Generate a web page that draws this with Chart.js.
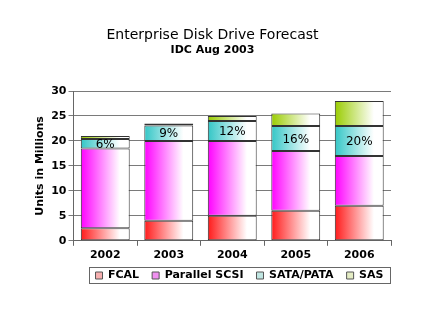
<!DOCTYPE html>
<html>
<head>
<meta charset="utf-8">
<script src="https://cdn.jsdelivr.net/npm/chart.js@4.4.0/dist/chart.umd.min.js"></script>
<style>
html,body{margin:0;padding:0;background:#fff;}
#wrap{width:428px;height:323px;position:relative;}
</style>
</head>
<body>
<div id="wrap"><canvas id="c" width="428" height="323"></canvas></div>
<script>
const categories = ['2002','2003','2004','2005','2006'];
const fcal = [2.5, 4, 5, 6, 7];
const parallelScsi = [16, 16, 15, 12, 10];
const sataPata = [1.9, 3.1, 4, 5, 6];
const sas = [0.6, 0.4, 1, 2.5, 5];
const sataShareLabels = ['6%', '9%', '12%', '16%', '20%'];
const yTicks = [0, 5, 10, 15, 20, 25, 30];

const FONT = "'DejaVu Sans', Verdana, sans-serif";
const BAR_PCT = 0.77;
const LEGEND_SHIFT_X = 27;
const LEGEND_SHIFT_Y = -8;

function gradFill(color) {
  return function(ctx) {
    const chart = ctx.chart;
    const xs = chart.scales.x;
    if (!chart.chartArea || !xs || ctx.dataIndex === undefined) return color;
    const cx = xs.getPixelForValue(ctx.dataIndex);
    const w = (xs.width / categories.length) * BAR_PCT;
    const g = chart.ctx.createLinearGradient(cx - w / 2, 0, cx + w / 2, 0);
    g.addColorStop(0, color);
    g.addColorStop(0.8, '#ffffff');
    g.addColorStop(1, '#ffffff');
    return g;
  };
}

const colors = {
  fcal: '#ff1a1a',
  pscsi: '#ff00ff',
  sata: '#33c6c6',
  sas: '#99cc00'
};
const legendTints = {
  fcal: '#f7b0b0',
  pscsi: '#f090f0',
  sata: '#c0e6e2',
  sas: '#e4ecc4'
};

function ds(label, data, key) {
  return {
    label: label,
    data: data,
    backgroundColor: gradFill(colors[key]),
    borderColor: '#333333',
    borderWidth: 1,
    borderSkipped: false,
    barPercentage: BAR_PCT,
    categoryPercentage: 1,
    legendTint: legendTints[key]
  };
}

const labelPlugin = {
  id: 'segLabels',
  afterDatasetsDraw(chart) {
    const meta = chart.getDatasetMeta(2);
    const c = chart.ctx;
    c.save();
    c.font = '12px ' + FONT;
    c.fillStyle = '#000';
    c.textAlign = 'center';
    c.textBaseline = 'middle';
    meta.data.forEach((bar, i) => {
      const p = bar.getProps(['x', 'y', 'base'], true);
      c.fillText(sataShareLabels[i], p.x, (p.y + p.base) / 2 + 1);
    });
    c.restore();
  }
};

const legendShiftPlugin = {
  id: 'legendShift',
  afterUpdate(chart) {
    const lg = chart.legend;
    if (!lg || lg._shifted) return;
    lg.left += LEGEND_SHIFT_X;
    lg.right += LEGEND_SHIFT_X;
    lg.top += LEGEND_SHIFT_Y;
    lg.bottom += LEGEND_SHIFT_Y;
    (lg.legendHitBoxes || []).forEach(h => { h.left += LEGEND_SHIFT_X; h.top += LEGEND_SHIFT_Y; });
    lg._shifted = true;
  },
  afterDraw(chart) {
    const lg = chart.legend;
    if (!lg || !lg.legendHitBoxes || !lg.legendHitBoxes.length) return;
    let l = Infinity, r = -Infinity, t = Infinity, b = -Infinity;
    lg.legendHitBoxes.forEach(h => {
      l = Math.min(l, h.left); r = Math.max(r, h.left + h.width);
      t = Math.min(t, h.top); b = Math.max(b, h.top + h.height);
    });
    const c = chart.ctx;
    c.save();
    c.strokeStyle = '#666';
    c.lineWidth = 1;
    c.strokeRect(Math.round(l - 7) + 0.5, Math.round(t - 3) + 0.5, Math.round(r - l + 13), Math.round(b - t + 5));
    c.restore();
  }
};

new Chart(document.getElementById('c'), {
  type: 'bar',
  data: {
    labels: categories,
    datasets: [
      ds('FCAL', fcal, 'fcal'),
      ds('Parallel SCSI', parallelScsi, 'pscsi'),
      ds('SATA/PATA', sataPata, 'sata'),
      ds('SAS', sas, 'sas')
    ]
  },
  options: {
    responsive: false,
    animation: false,
    devicePixelRatio: 1,
    layout: { padding: { left: 34, right: 37, top: 27, bottom: 24 } },
    plugins: {
      title: {
        display: true,
        text: 'Enterprise Disk Drive Forecast',
        color: '#000',
        font: { family: FONT, size: 14, weight: 'normal' },
        padding: { top: 0, bottom: 0 }
      },
      subtitle: {
        display: true,
        text: 'IDC Aug 2003',
        color: '#000',
        font: { family: FONT, size: 11, weight: 'bold' },
        padding: { top: 0, bottom: 34 }
      },
      legend: {
        position: 'bottom',
        labels: {
          color: '#000',
          font: { family: FONT, size: 11, weight: 'bold' },
          boxWidth: 7,
          boxHeight: 7,
          padding: 13,
          generateLabels(chart) {
            return chart.data.datasets.map((d, i) => ({
              text: d.label,
              fillStyle: d.legendTint,
              strokeStyle: '#555',
              lineWidth: 1,
              hidden: false,
              datasetIndex: i,
              fontColor: '#000'
            }));
          }
        }
      },
      tooltip: { enabled: false }
    },
    scales: {
      x: {
        stacked: true,
        grid: { display: true, drawOnChartArea: false, offset: true, tickLength: 5, color: '#666' },
        border: { color: '#666' },
        ticks: { color: '#000', font: { family: FONT, size: 11, weight: 'bold' }, padding: 3 }
      },
      y: {
        stacked: true,
        min: 0,
        max: 30,
        afterBuildTicks(axis) { axis.ticks = yTicks.map(v => ({ value: v })); },
        grid: { color: '#7a7a7a', tickLength: 5 },
        border: { color: '#666' },
        ticks: { color: '#000', font: { family: FONT, size: 11, weight: 'bold' }, padding: 2 },
        title: {
          display: true,
          text: 'Units in Millions',
          color: '#000',
          font: { family: FONT, size: 11, weight: 'bold' },
          padding: { top: 0, bottom: 2 }
        }
      }
    }
  },
  plugins: [labelPlugin, legendShiftPlugin]
});
</script>
</body>
</html>
